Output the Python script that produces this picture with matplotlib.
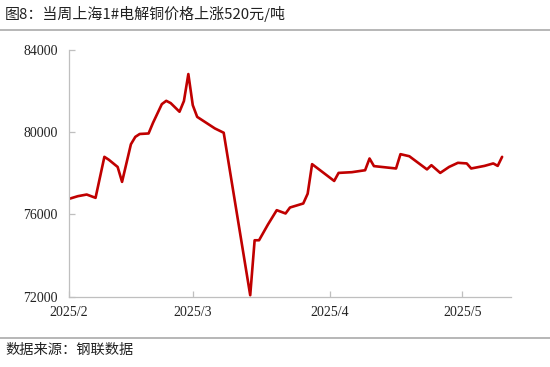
import matplotlib
matplotlib.use('Agg')
from matplotlib import pyplot as plt
import matplotlib.dates as mdates
from matplotlib.lines import Line2D
import pandas as pd

# values
dates = ['2025-02-01', '2025-02-03', '2025-02-05', '2025-02-07', '2025-02-09',
         '2025-02-10', '2025-02-12', '2025-02-13', '2025-02-15', '2025-02-16',
         '2025-02-17', '2025-02-19', '2025-02-20', '2025-02-22', '2025-02-23',
         '2025-02-24', '2025-02-26', '2025-02-27', '2025-02-28', '2025-03-01',
         '2025-03-02', '2025-03-04', '2025-03-06', '2025-03-08',
         '2025-03-14', '2025-03-15', '2025-03-16', '2025-03-18', '2025-03-20',
         '2025-03-22', '2025-03-23', '2025-03-26', '2025-03-27', '2025-03-28',
         '2025-03-30', '2025-04-02', '2025-04-03', '2025-04-06', '2025-04-09',
         '2025-04-10', '2025-04-11', '2025-04-16', '2025-04-17', '2025-04-19',
         '2025-04-23', '2025-04-24', '2025-04-26', '2025-04-28', '2025-04-30',
         '2025-05-02', '2025-05-03', '2025-05-06', '2025-05-08', '2025-05-09',
         '2025-05-10']
prices = [76750, 76880, 76960, 76800, 78790,
          78650, 78300, 77575, 79400, 79760,
          79900, 79925, 80440, 81350, 81510,
          81400, 80980, 81500, 82810, 81300,
          80730, 80450, 80170, 79960,
          72070, 74740, 74740, 75500, 76200,
          76040, 76330, 76525, 77000, 78435,
          78110, 77620, 78010, 78045, 78140,
          78710, 78340, 78225, 78920, 78820,
          78180, 78385, 78010, 78300, 78500,
          78470, 78225, 78350, 78470, 78350,
          78790]
yticks = [72000, 76000, 80000, 84000]
xticks = ['2025-02-01', '2025-03-01', '2025-04-01', '2025-05-01']

title = '图8：当周上海1#电解铜价格上涨520元/吨'
source = '数据来源：钢联数据'

cjk = ['Noto Sans CJK SC', 'DejaVu Sans']
serif = ['Liberation Serif', 'DejaVu Serif']
grey = '#bfbfbf'

x = pd.to_datetime(dates)

fig = plt.figure(figsize=(5.5, 3.67), dpi=100)
ax = fig.add_axes([0.1255, 0.1916, 0.929 - 0.1255, 0.865 - 0.1916])

ax.plot(x, prices, color='#c00000', lw=1.9, solid_joinstyle='round', solid_capstyle='round')

ax.set_ylim(72000, 84000)
ax.set_yticks(yticks)
ax.set_xlim(pd.Timestamp('2025-02-01'), pd.Timestamp('2025-05-12'))
ax.set_xticks(pd.to_datetime(xticks))
ax.xaxis.set_major_formatter(mdates.DateFormatter('%Y/%-m'))

for s in ['top', 'right']:
    ax.spines[s].set_visible(False)
for s in ['left', 'bottom']:
    ax.spines[s].set_color(grey)
    ax.spines[s].set_linewidth(0.9)
ax.tick_params(direction='in', length=4, width=0.9, color=grey, labelsize=10,
               labelcolor='#222222')
ax.tick_params(axis='x', pad=7)
ax.tick_params(axis='y', pad=8)
for lbl in ax.get_xticklabels() + ax.get_yticklabels():
    lbl.set_family(serif)

fig.text(0.009, 0.962, title, family=cjk, fontsize=10.8, color='#222222', va='center', ha='left')
fig.text(0.009, 0.046, source, family=cjk, fontsize=10.3, color='#222222', va='center', ha='left')
fig.add_artist(Line2D([0, 1], [0.919, 0.919], color='#aaaaaa', lw=1.2, transform=fig.transFigure))
fig.add_artist(Line2D([0, 1], [0.079, 0.079], color='#aaaaaa', lw=1.2, transform=fig.transFigure))

fig.savefig('out.png', dpi=100)
